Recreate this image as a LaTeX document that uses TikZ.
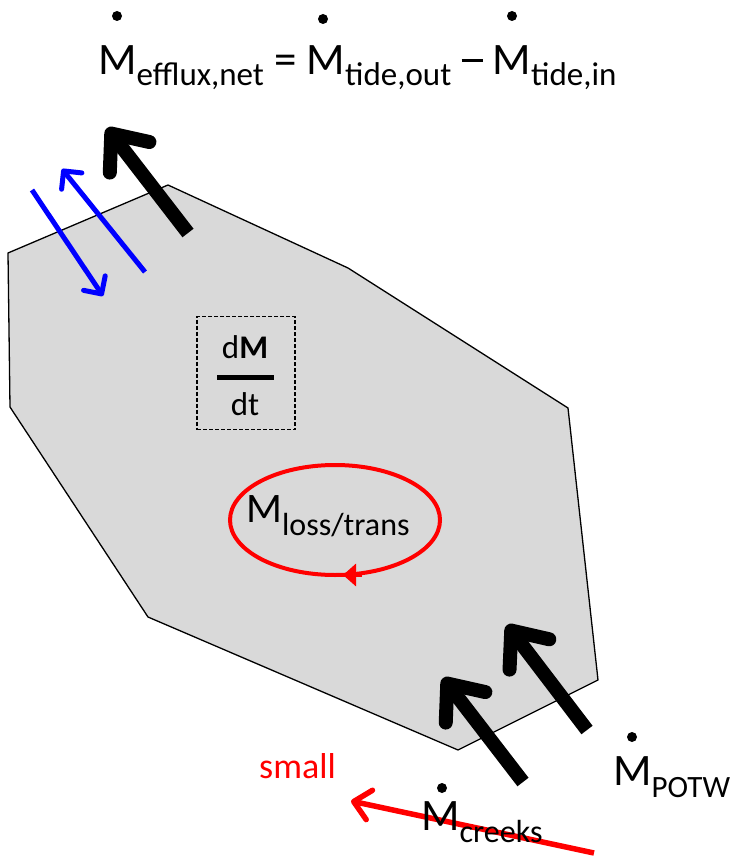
\documentclass[tikz,border=0pt]{standalone}
\usepackage{fontspec}
\setmainfont{Carlito}
\usetikzlibrary{arrows.meta}
\definecolor{areagray}{HTML}{D9D9D9}
\definecolor{pblue}{RGB}{0,0,255}
\definecolor{pred}{RGB}{255,0,0}
\newcommand\subtxt[3]{\raisebox{-#1pt}{\fontsize{#2}{#2}\selectfont #3}}
\newcommand\longdash{\rule[13pt]{21pt}{2.8pt}}
\tikzset{
  bigarrow/.style={line width=14pt, -{Straight Barb[round,length=30pt,width=50pt]}},
  bluearrow/.style={pblue, line width=5pt, -{Straight Barb[round,length=13pt,width=26pt]}},
  redarrow/.style={pred, line width=5.5pt, -{Straight Barb[round,length=16pt,width=30pt]}},
  lbl/.style={inner sep=0pt, anchor=base west},
  fluxdot/.style={fill=black},
}
\begin{document}
\begin{tikzpicture}[x=1pt,y=-1pt]
\useasboundingbox (0,0) rectangle (736,858);
% water body
\draw[fill=areagray, line width=1.3pt, line join=miter]
  (8,253) -- (168,185) -- (348,268) -- (568,408) -- (598,680) -- (458,750) -- (148,617) -- (10,407) -- cycle;
% equation
\node[lbl] (eq) at (98,75) {\fontsize{45}{50}\selectfont M\subtxt{11}{33}{efflux,net} = M\subtxt{11}{33}{tide,out} \longdash{} M\subtxt{11}{33}{tide,in}};
\fill[fluxdot] (117,16) circle (5);
\fill[fluxdot] (323,19) circle (5);
\fill[fluxdot] (512,16) circle (5);
% dM/dt box
\node[draw, dash pattern=on 4pt off 2pt, line width=1.2pt, minimum width=98pt, minimum height=113pt, inner sep=0pt] (dmdt) at (246,373) {};
\node[inner sep=0pt, anchor=base] (dm) at (245,358) {\fontsize{33}{35}\selectfont d\textbf{M}};
\node[inner sep=0pt, anchor=base] (dt) at (245,415) {\fontsize{33}{35}\selectfont dt};
\coordinate (barL) at (217,377);
\coordinate (barR) at (274,377);
\draw[line width=5pt] (barL) -- (barR);
% loss ellipse
\node[lbl] (loss) at (246,522) {\fontsize{42}{46}\selectfont M\subtxt{13}{32}{loss/trans}};
\draw[pred, line width=4pt] (335,520) ellipse [x radius=105, y radius=55];
\coordinate (lossA) at (362,575);
\coordinate (lossB) at (343,575);
\draw[pred, line width=4pt, -{Triangle[length=13pt,width=22pt]}] (lossA) -- (lossB);
% tidal arrows
\coordinate (effT) at (188,233); \coordinate (effH) at (107,128);
\draw[bigarrow] (effT) -- (effH);
\coordinate (bdT) at (32,190); \coordinate (bdH) at (103,296);
\draw[bluearrow] (bdT) -- (bdH);
\coordinate (buT) at (145,272); \coordinate (buH) at (62,169);
\draw[bluearrow] (buT) -- (buH);
% inflows
\coordinate (crT) at (523,782); \coordinate (crH) at (443,678);
\draw[bigarrow] (crT) -- (crH);
\coordinate (poT) at (587,730); \coordinate (poH) at (507,625);
\draw[bigarrow] (poT) -- (poH);
% red small arrow
\coordinate (smT) at (594,853); \coordinate (smH) at (351,801);
\draw[redarrow] (smT) -- (smH);
\node[lbl, text=pred] (small) at (259,778) {\fontsize{36}{38}\selectfont small};
% labels
\node[lbl] (creeks) at (421,830) {\fontsize{45}{50}\selectfont M\subtxt{12}{32}{creeks}};
\fill[fluxdot] (442,788) circle (5);
\node[lbl] (potw) at (613,785) {\fontsize{45}{50}\selectfont M\subtxt{12}{31}{POTW}};
\fill[fluxdot] (632,737) circle (5);
\end{tikzpicture}
\end{document}
